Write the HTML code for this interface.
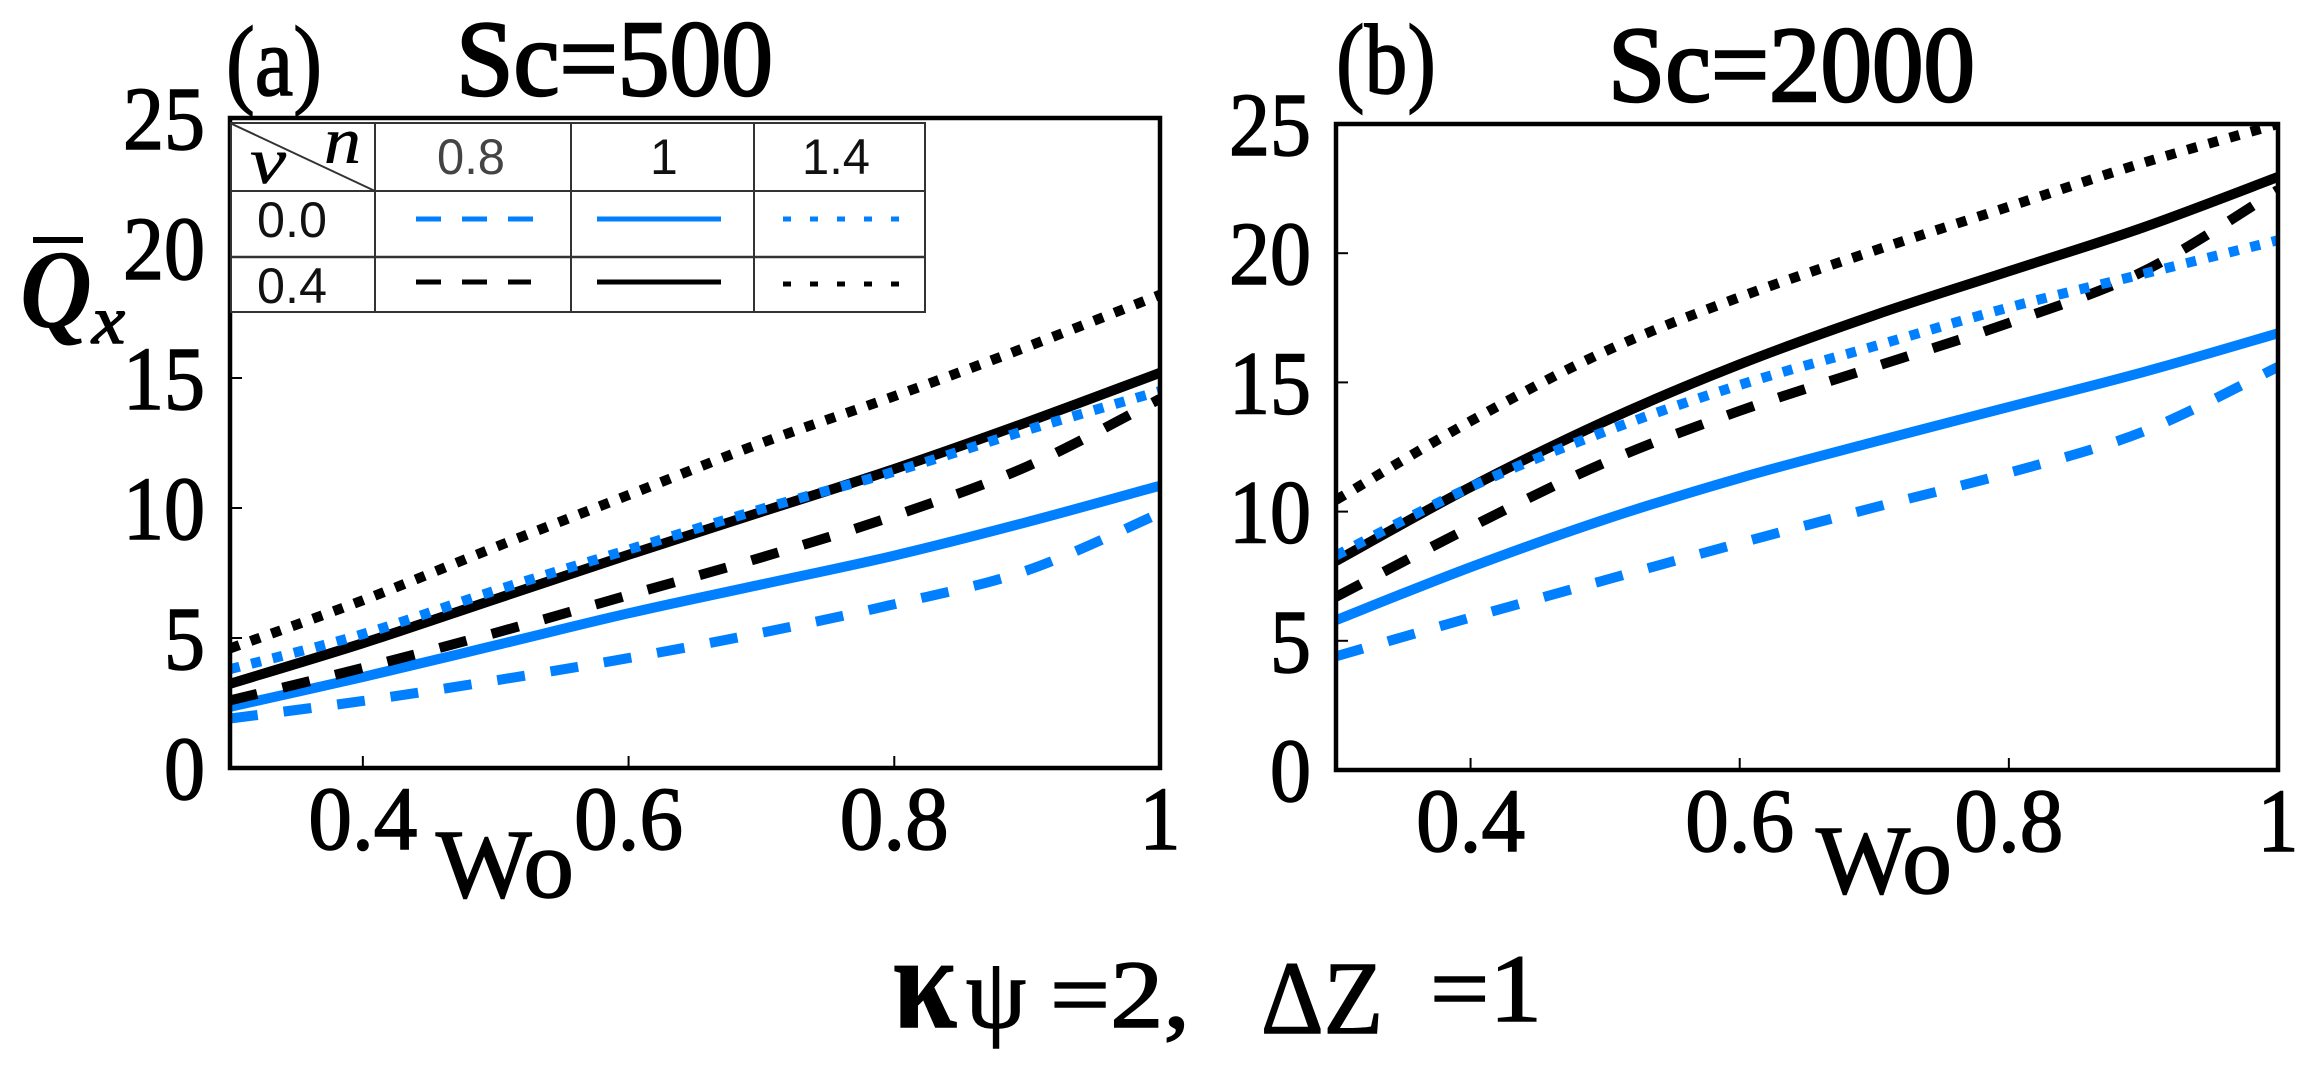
<!DOCTYPE html>
<html lang="en">
<head>
<meta charset="utf-8">
<title>Qx versus Wo</title>
<style>
html,body{margin:0;padding:0;background:#fff;width:2323px;height:1069px;overflow:hidden}
svg{display:block;position:absolute;left:0;top:0}
text{font-family:"Liberation Serif","DejaVu Serif",serif;fill:#000;stroke:#000;stroke-width:1.5px}
.sans{font-family:"Liberation Sans","DejaVu Sans",sans-serif;font-size:50px;fill:#111;stroke:none}
</style>
</head>
<body>
<svg id="chart" xmlns="http://www.w3.org/2000/svg" width="2323" height="1069" viewBox="0 0 2323 1069">
  <defs>
    <clipPath id="clip-a"><rect x="230" y="118" width="930" height="650"/></clipPath>
    <clipPath id="clip-b"><rect x="1336" y="124" width="942" height="646"/></clipPath>
  </defs>
  <rect x="0" y="0" width="2323" height="1069" fill="#fff"/>
  <g id="panel-a"></g>
  <g id="panel-b"></g>

  <text x="226" y="95" font-size="100" textLength="96" lengthAdjust="spacingAndGlyphs">(a)</text>
  <text x="456" y="95" font-size="108" textLength="317" lengthAdjust="spacingAndGlyphs" style="stroke-width:2.5px">Sc=500</text>
  <text x="1336" y="93" font-size="100" textLength="100" lengthAdjust="spacingAndGlyphs">(b)</text>
  <text x="1608" y="101" font-size="108" textLength="367" lengthAdjust="spacingAndGlyphs" style="stroke-width:2.5px">Sc=2000</text>

  <g>
    <rect x="33" y="237" width="50" height="6" fill="#000"/>
    <text x="20" y="327" font-size="112" font-style="italic" font-weight="bold" textLength="72" lengthAdjust="spacingAndGlyphs" style="stroke:none">Q</text>
    <text x="92" y="343" font-size="68" font-style="italic" textLength="33" lengthAdjust="spacingAndGlyphs">x</text>
  </g>
  <text x="436" y="897" font-size="98" textLength="138" lengthAdjust="spacingAndGlyphs">Wo</text>
  <text x="1816" y="893" font-size="98" textLength="136" lengthAdjust="spacingAndGlyphs">Wo</text>

  <g>
    <text x="893" y="1027" font-size="132" font-weight="bold" textLength="64" lengthAdjust="spacingAndGlyphs">κ</text>
    <text x="966" y="1027" font-size="100" textLength="60" lengthAdjust="spacingAndGlyphs">ψ</text>
    <text x="1050" y="1027" font-size="96" textLength="140" lengthAdjust="spacingAndGlyphs">=2,</text>
    <text x="1261" y="1033" font-size="104" textLength="122" lengthAdjust="spacingAndGlyphs">ΔZ</text>
    <text x="1430" y="1021" font-size="96" textLength="112" lengthAdjust="spacingAndGlyphs">=1</text>
  </g>

  <g id="inset-table" stroke-linecap="butt">
    <rect x="231" y="123" width="694" height="189" fill="#fff" stroke="#333" stroke-width="2"/>
    <line x1="375" y1="123" x2="375" y2="312" stroke="#333" stroke-width="2"/>
    <line x1="571" y1="123" x2="571" y2="312" stroke="#333" stroke-width="2"/>
    <line x1="754" y1="123" x2="754" y2="312" stroke="#333" stroke-width="2"/>
    <line x1="231" y1="191" x2="925" y2="191" stroke="#333" stroke-width="2"/>
    <line x1="231" y1="257" x2="925" y2="257" stroke="#333" stroke-width="2.5"/>
    <line x1="232" y1="124" x2="375" y2="191" stroke="#333" stroke-width="2"/>
    <text x="324" y="163" font-size="66" font-style="italic" textLength="37" lengthAdjust="spacingAndGlyphs" style="stroke-width:0.5px">n</text>
    <text x="250" y="183" font-size="66" font-style="italic" textLength="36" lengthAdjust="spacingAndGlyphs" style="stroke-width:0.5px">ν</text>
    <text class="sans" x="437" y="174" textLength="68" lengthAdjust="spacingAndGlyphs" style="fill:#444">0.8</text>
    <text class="sans" x="650" y="174">1</text>
    <text class="sans" x="802" y="174" textLength="68" lengthAdjust="spacingAndGlyphs">1.4</text>
    <text class="sans" x="257" y="237" textLength="70" lengthAdjust="spacingAndGlyphs">0.0</text>
    <text class="sans" x="257" y="303" textLength="70" lengthAdjust="spacingAndGlyphs">0.4</text>
    <line x1="416" y1="219" x2="533" y2="219" stroke="#0080ff" stroke-width="5" stroke-dasharray="25 21"/>
    <line x1="597" y1="219" x2="721" y2="219" stroke="#0080ff" stroke-width="5"/>
    <line x1="783" y1="219" x2="900" y2="219" stroke="#0080ff" stroke-width="5" stroke-dasharray="8 19"/>
    <line x1="416" y1="282" x2="531" y2="282" stroke="#000" stroke-width="5" stroke-dasharray="25 21"/>
    <line x1="597" y1="282" x2="721" y2="282" stroke="#000" stroke-width="5"/>
    <line x1="783" y1="284" x2="900" y2="284" stroke="#000" stroke-width="5" stroke-dasharray="8 19"/>
  </g>
</svg>

<script>
const wo = [0.3, 0.4, 0.5, 0.6, 0.7, 0.8, 0.9, 1.0];
const xTickValues = [0.4, 0.6, 0.8, 1];
const xTickLabels = ["0.4", "0.6", "0.8", "1"];
const yTickValues = [0, 5, 10, 15, 20, 25];
const yTickLabels = ["0", "5", "10", "15", "20", "25"];

const aBlueDashed = [1.9, 2.58, 3.37, 4.23, 5.2, 6.3, 7.6, 9.8];
const aBlueSolid = [2.35, 3.5, 4.72, 5.95, 7.06, 8.17, 9.46, 10.86];
const aBlueDotted = [3.8, 5.15, 6.83, 8.4, 9.96, 11.4, 13.0, 14.5];
const aBlackDashed = [2.6, 3.85, 5.2, 6.65, 8.1, 9.7, 11.6, 14.2];
const aBlackSolid = [3.24, 4.8, 6.5, 8.2, 9.85, 11.5, 13.3, 15.2];
const aBlackDotted = [4.6, 6.45, 8.5, 10.5, 12.5, 14.3, 16.2, 18.2];

const bBlueDashed = [4.4, 5.9, 7.35, 8.78, 10.16, 11.5, 13.1, 15.6];
const bBlueSolid = [5.8, 7.85, 9.7, 11.3, 12.7, 14.05, 15.4, 16.9];
const bBlueDotted = [8.3, 10.95, 13.1, 14.9, 16.4, 17.9, 19.2, 20.5];
const bBlackDashed = [6.7, 9.4, 11.9, 13.9, 15.6, 17.3, 19.3, 22.45];
const bBlackSolid = [8.09, 10.95, 13.5, 15.7, 17.6, 19.3, 21.0, 22.95];
const bBlackDotted = [10.45, 13.5, 16.2, 18.3, 20.1, 21.8, 23.5, 25.0];

const SVG_NS = "http://www.w3.org/2000/svg";
const BLUE = "#0080ff";
const BLACK = "#000";
const DASHED = "28 26";
const DOTTED = "10 12";

function make(tag, attrs, parent) {
  const el = document.createElementNS(SVG_NS, tag);
  for (const key in attrs) el.setAttribute(key, attrs[key]);
  parent.appendChild(el);
  return el;
}

function labelWidth(label) {
  let w = 0;
  for (const ch of label) w += ch === "." ? 27 : 41;
  return w;
}

function smoothPath(xs, ys) {
  let d = "M" + xs[0].toFixed(2) + " " + ys[0].toFixed(2);
  for (let i = 0; i < xs.length - 1; i++) {
    const i0 = Math.max(i - 1, 0);
    const i3 = Math.min(i + 2, xs.length - 1);
    const c1x = xs[i] + (xs[i + 1] - xs[i0]) / 6;
    const c1y = ys[i] + (ys[i + 1] - ys[i0]) / 6;
    const c2x = xs[i + 1] - (xs[i3] - xs[i]) / 6;
    const c2y = ys[i + 1] - (ys[i3] - ys[i]) / 6;
    d += "C" + c1x.toFixed(2) + " " + c1y.toFixed(2) + " " + c2x.toFixed(2) + " " + c2y.toFixed(2) + " " + xs[i + 1].toFixed(2) + " " + ys[i + 1].toFixed(2);
  }
  return d;
}

function drawPanel(cfg) {
  const root = document.getElementById(cfg.id);
  const xScale = v => cfg.left + (v - 0.3) / 0.7 * (cfg.right - cfg.left);
  const yScale = v => cfg.bottom - v / 25 * (cfg.bottom - cfg.top);

  const curves = make("g", { "clip-path": "url(#" + cfg.clip + ")", fill: "none" }, root);
  
  

  cfg.series.forEach(s => {
    const px = wo.map(xScale);
    const py = s.values.map(yScale);
    const path = make("path", {
      d: smoothPath(px, py),
      stroke: s.color,
      "stroke-width": 10,
      "stroke-dasharray": s.dash || "none",
      "stroke-linecap": "butt",
      "stroke-linejoin": "round"
    }, curves);
    
    
  });

  const frame = make("rect", {
    x: cfg.left,
    y: cfg.top,
    width: cfg.right - cfg.left,
    height: cfg.bottom - cfg.top,
    fill: "none",
    stroke: "#000",
    "stroke-width": 4.5
  }, root);
  
  

  xTickValues.forEach((v, i) => {
    const x = xScale(v);
    if (v < 1) {
      const tick = make("line", { x1: x, x2: x, y1: cfg.bottom, y2: cfg.bottom - 12, stroke: "#000", "stroke-width": 2 }, root);
      
      
    }
    const label = xTickLabels[i];
    const text = make("text", {
      x: x,
      y: cfg.xLabelY,
      "font-size": 90,
      "text-anchor": "middle",
      textLength: labelWidth(label),
      lengthAdjust: "spacingAndGlyphs"
    }, root);
    text.textContent = label;
    
    
  });

  yTickValues.forEach((v, i) => {
    const y = yScale(v);
    if (v > 0 && v < 25) {
      const tick = make("line", { x1: cfg.left, x2: cfg.left + 12, y1: y, y2: y, stroke: "#000", "stroke-width": 2 }, root);
      
      
    }
    const label = yTickLabels[i];
    const text = make("text", {
      x: cfg.yLabelX,
      y: y + 31,
      "font-size": 90,
      "text-anchor": "end",
      textLength: labelWidth(label),
      lengthAdjust: "spacingAndGlyphs"
    }, root);
    text.textContent = label;
    
    
  });
}

drawPanel({
  id: "panel-a", clip: "clip-a",
  left: 230, right: 1160, top: 118, bottom: 768, xLabelY: 849, yLabelX: 205,
  series: [
    { name: "n08-nu00", values: aBlueDashed, color: BLUE, dash: DASHED },
    { name: "n1-nu00", values: aBlueSolid, color: BLUE },
    { name: "n08-nu04", values: aBlackDashed, color: BLACK, dash: DASHED },
    { name: "n1-nu04", values: aBlackSolid, color: BLACK },
    { name: "n14-nu00", values: aBlueDotted, color: BLUE, dash: DOTTED },
    { name: "n14-nu04", values: aBlackDotted, color: BLACK, dash: DOTTED }
  ]
});

drawPanel({
  id: "panel-b", clip: "clip-b",
  left: 1336, right: 2278, top: 124, bottom: 770, xLabelY: 851, yLabelX: 1311,
  series: [
    { name: "n08-nu00", values: bBlueDashed, color: BLUE, dash: DASHED },
    { name: "n1-nu00", values: bBlueSolid, color: BLUE },
    { name: "n08-nu04", values: bBlackDashed, color: BLACK, dash: DASHED },
    { name: "n1-nu04", values: bBlackSolid, color: BLACK },
    { name: "n14-nu00", values: bBlueDotted, color: BLUE, dash: DOTTED },
    { name: "n14-nu04", values: bBlackDotted, color: BLACK, dash: DOTTED }
  ]
});
</script>
</body>
</html>
